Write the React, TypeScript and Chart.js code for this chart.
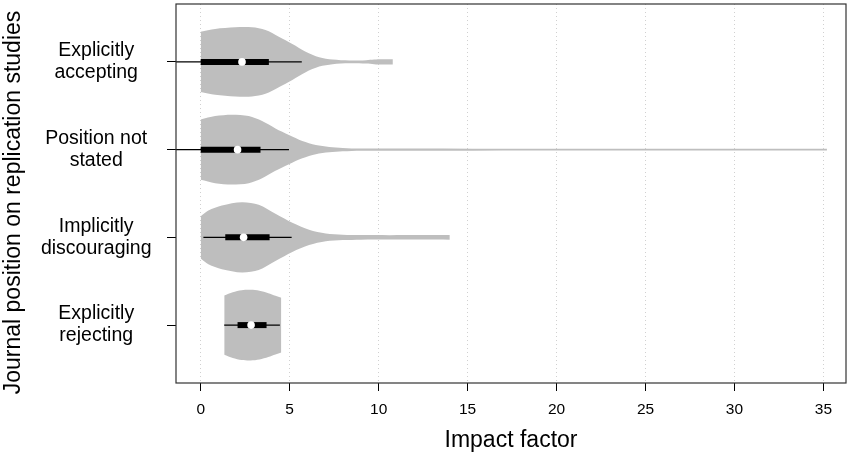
import React, { useEffect, useRef } from 'react';
import { Chart, registerables } from 'chart.js';

Chart.register(...registerables);

// ---- data ----
const categories = [
  ['Explicitly', 'accepting'],
  ['Position not', 'stated'],
  ['Implicitly', 'discouraging'],
  ['Explicitly', 'rejecting'],
];
const categoryPositions = [4, 3, 2, 1];
const xTickValues = [0, 5, 10, 15, 20, 25, 30, 35];
const xTitle = 'Impact factor';
const yTitle = 'Journal position on replication studies';

// violin density profiles: impact factor values and half-widths (in category units)
const acceptingX = [0, 0.81, 1.94, 2.88, 3.64, 4.39, 5.15, 5.9, 6.66, 7.41, 8.35, 9.3, 9.75, 9.96, 10.8];
const acceptingWidth = [0.344, 0.375, 0.394, 0.394, 0.364, 0.288, 0.205, 0.117, 0.053, 0.026, 0.015, 0.019, 0.026, 0.03, 0.03];

const notStatedX = [0, 0.81, 1.75, 2.7, 3.45, 4.2, 4.96, 5.71, 6.47, 7.22, 7.98, 9, 35.2];
const notStatedWidth = [0.344, 0.383, 0.398, 0.383, 0.326, 0.242, 0.167, 0.099, 0.053, 0.031, 0.019, 0.012, 0.009];

const discouragingX = [0, 0.43, 1.19, 2.32, 3.26, 4.2, 5.15, 6.09, 7.03, 7.98, 9, 14.0];
const discouragingWidth = [0.242, 0.307, 0.364, 0.401, 0.372, 0.269, 0.167, 0.088, 0.045, 0.031, 0.026, 0.026];

const rejectingX = [1.32, 1.8, 2.3, 2.8, 3.3, 3.8, 4.2, 4.53];
const rejectingWidth = [0.338, 0.375, 0.398, 0.403, 0.392, 0.364, 0.335, 0.313];

// box plot statistics
const whiskerLow = [-2, -2, 0.15, 1.32];
const quartile1 = [0, 0, 1.38, 2.07];
const medians = [2.32, 2.07, 2.41, 2.83];
const quartile3 = [3.83, 3.36, 3.87, 3.7];
const whiskerHigh = [5.68, 4.96, 5.11, 4.45];

// ---- styles ----
const FONT = "'Liberation Sans', Arial, Helvetica, sans-serif";
const VIOLIN = '#bebebe';

const framePlugin = {
  id: 'frame',
  afterDraw(chart: any) {
    const { ctx, chartArea: a } = chart;
    ctx.save();
    ctx.strokeStyle = '#333';
    ctx.lineWidth = 1.2;
    ctx.strokeRect(a.left, a.top, a.right - a.left, a.bottom - a.top);
    // y axis title
    ctx.fillStyle = '#000';
    ctx.font = `23px ${FONT}`;
    ctx.textAlign = 'center';
    ctx.textBaseline = 'middle';
    ctx.translate(14, (a.top + a.bottom) / 2 + 9);
    ctx.rotate(-Math.PI / 2);
    ctx.fillText(yTitle, 0, 0);
    ctx.restore();
  },
};

export default function App() {
  const ref = useRef<HTMLCanvasElement | null>(null);

  useEffect(() => {
    if (!ref.current) return;
    const profiles = [
      [acceptingX, acceptingWidth],
      [notStatedX, notStatedWidth],
      [discouragingX, discouragingWidth],
      [rejectingX, rejectingWidth],
    ];
    const datasets: any[] = [];
    profiles.forEach(([xs, ws], i) => {
      const c = categoryPositions[i];
      datasets.push({
        data: xs.map((x, k) => ({ x, y: c + ws[k] })),
        borderWidth: 0,
        borderColor: 'transparent',
        backgroundColor: VIOLIN,
        pointRadius: 0,
        tension: 0.3,
        fill: false,
        order: 10,
      });
      datasets.push({
        data: xs.map((x, k) => ({ x, y: c - ws[k] })),
        borderWidth: 0,
        borderColor: 'transparent',
        backgroundColor: VIOLIN,
        pointRadius: 0,
        tension: 0.3,
        fill: '-1',
        order: 10,
      });
    });
    categoryPositions.forEach((c, i) => {
      datasets.push({
        data: [{ x: whiskerLow[i], y: c }, { x: whiskerHigh[i], y: c }],
        borderColor: '#000',
        borderWidth: 1.3,
        pointRadius: 0,
        fill: false,
        order: 5,
      });
      datasets.push({
        data: [{ x: quartile1[i], y: c }, { x: quartile3[i], y: c }],
        borderColor: '#000',
        borderWidth: 6,
        borderCapStyle: 'butt',
        pointRadius: 0,
        fill: false,
        order: 4,
      });
    });
    datasets.push({
      data: categoryPositions.map((c, i) => ({ x: medians[i], y: c })),
      showLine: false,
      pointRadius: 3.8,
      pointBackgroundColor: '#fff',
      pointBorderWidth: 0,
      pointBorderColor: '#fff',
      order: 1,
    });

    const chart = new Chart(ref.current, {
      type: 'line',
      data: { datasets },
      plugins: [framePlugin],
      options: {
        animation: false,
        responsive: true,
        maintainAspectRatio: false,
        events: [],
        layout: { padding: { top: 4, right: 4, left: 0, bottom: 0 } },
        plugins: { legend: { display: false }, tooltip: { enabled: false } },
        scales: {
          x: {
            type: 'linear',
            min: -1.39,
            max: 36.27,
            afterBuildTicks: (scale: any) => {
              scale.ticks = xTickValues.map((v) => ({ value: v }));
            },
            afterFit: (scale: any) => {
              scale.height = 74;
              scale.paddingLeft = 0;
              scale.paddingRight = 0;
            },
            grid: {
              color: '#d0d0d0',
              lineWidth: 1,
              tickColor: '#000',
              tickLength: 8,
              tickWidth: 1,
              tickBorderDash: [],
            },
            border: { display: false, dash: [1, 3] },
            ticks: {
              color: '#000',
              padding: 9,
              maxRotation: 0,
              autoSkip: false,
              font: { family: FONT, size: 15.5 },
            },
            title: {
              display: true,
              text: xTitle,
              color: '#000',
              font: { family: FONT, size: 23 },
              padding: { top: 0, bottom: 3 },
            },
          },
          y: {
            type: 'linear',
            min: 0.34,
            max: 4.66,
            afterBuildTicks: (scale: any) => {
              scale.ticks = categoryPositions.map((v) => ({ value: v }));
            },
            afterFit: (scale: any) => {
              scale.width = 176;
              scale.paddingTop = 0;
              scale.paddingBottom = 0;
            },
            grid: {
              drawOnChartArea: false,
              tickColor: '#000',
              tickLength: 9,
              tickWidth: 1,
            },
            border: { display: false },
            ticks: {
              color: '#000',
              padding: 15.5,
              crossAlign: 'center',
              autoSkip: false,
              font: { family: FONT, size: 19.5, lineHeight: 1.13 },
              callback: (value: any) => {
                const idx = categoryPositions.indexOf(Number(value));
                return idx >= 0 ? categories[idx] : '';
              },
            },
          },
        },
      } as any,
    });
    return () => chart.destroy();
  }, []);

  return (
    <div style={{ position: 'absolute', left: 0, top: 0, width: 850, height: 457 }}>
      <canvas ref={ref} />
    </div>
  );
}
